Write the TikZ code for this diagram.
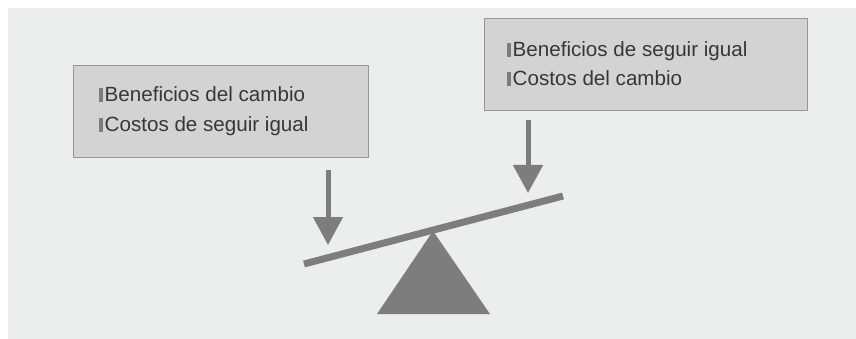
\documentclass[tikz,border=0pt]{standalone}
\usepackage{fontspec}
\usepackage{xcolor}
\setmainfont{Liberation Sans}
\definecolor{paper}{RGB}{236, 237, 237}
\definecolor{panelfill}{RGB}{211, 211, 211}
\definecolor{panelline}{RGB}{150, 150, 150}
\definecolor{ink}{RGB}{55, 55, 55}
\definecolor{weight}{RGB}{125, 125, 125}
\usetikzlibrary{arrows.meta,positioning}
\newcommand{\itembar}{\textcolor{weight}{\rule{3.5pt}{14pt}}\hspace{2pt}}

\begin{document}
\begin{tikzpicture}[x=1pt, y=-1pt,
        panel/.style={draw=panelline, fill=panelfill, line width=1pt, inner sep=0pt},
        item/.style={text=ink, font=\fontsize{20.6}{24}\selectfont, inner sep=0pt},
        push/.style={draw=weight, line width=5pt, -{Triangle[width=29pt,length=28pt]}}]
    \useasboundingbox (0,0) rectangle (856,339);
    \fill[white] (0,0) rectangle (856,339);
    \fill[paper] (8,8) rectangle (856,339);
    % boxes
    \node[panel, minimum width=295pt, minimum height=92pt, anchor=north west] (changebox) at (73,65) {};
    \node[panel, minimum width=323pt, minimum height=92pt, anchor=north west] (staybox) at (484,18) {};
    \node[item, anchor=base west] (changeA) at ([xshift=26pt,yshift=-37pt]changebox.north west) {\itembar Beneficios del cambio};
    \node[item, anchor=base west] (changeB) at ([xshift=26pt,yshift=-67pt]changebox.north west) {\itembar Costos de seguir igual};
    \node[item, anchor=base west] (stayA) at ([xshift=23pt,yshift=-39pt]staybox.north west) {\itembar Beneficios de seguir igual};
    \node[item, anchor=base west] (stayB) at ([xshift=23pt,yshift=-68pt]staybox.north west) {\itembar Costos del cambio};
    % seesaw
    \coordinate (beamL) at (304,264);
    \coordinate (beamR) at (563,196);
    \coordinate (apex) at (433,231);
    \fill[weight] (apex) -- (490,314) -- (377,314) -- cycle;
    \draw[weight, line width=7pt] (beamL) -- (beamR);
    % weights
    \coordinate (pushL) at (328,170);
    \coordinate (hitL) at (328,245);
    \coordinate (pushR) at (528,120);
    \coordinate (hitR) at (528,193);
    \draw[push] (pushL) -- (hitL);
    \draw[push] (pushR) -- (hitR);
\end{tikzpicture}
\end{document}
